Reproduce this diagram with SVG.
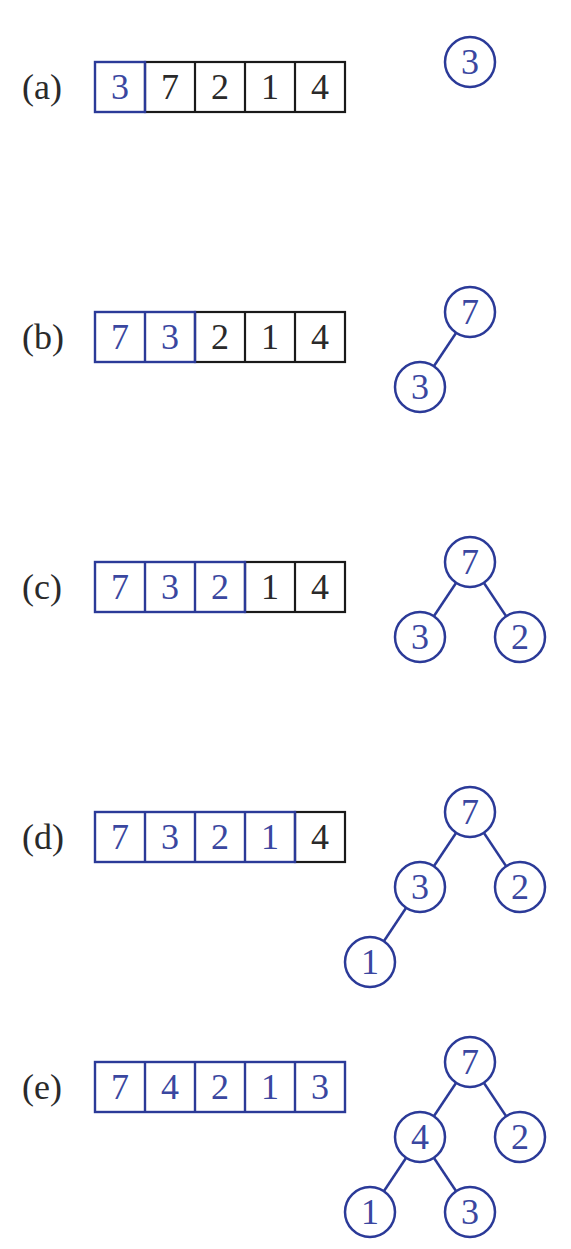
<svg xmlns="http://www.w3.org/2000/svg" width="571" height="1249" viewBox="0 0 571 1249">
<style>
.bk{fill:none;stroke:#1a1a1a;stroke-width:2.2}
.bl{fill:none;stroke:#2b3a98;stroke-width:2.4}
.nd{fill:#fff;stroke:#2b3a98;stroke-width:2.5}
.e{stroke:#2b3a98;stroke-width:2.5}
text{font-family:"Liberation Serif","DejaVu Serif",serif;font-size:36px;text-anchor:middle}
.tb{fill:#3a47a0}
.tk{fill:#2a2a2a}
.lab{fill:#2a2a2a;text-anchor:start}
</style>
<rect width="571" height="1249" fill="#fff"/>
<g id="labels">
<text class="lab" x="22" y="99">(a)</text>
<text class="lab" x="22" y="349">(b)</text>
<text class="lab" x="22" y="599">(c)</text>
<text class="lab" x="22" y="849">(d)</text>
<text class="lab" x="22" y="1099">(e)</text>
</g>
<g id="array-a">
<rect class="bk" x="145" y="62" width="200" height="50"/>
<line class="bk" x1="195" y1="62" x2="195" y2="112"/><line class="bk" x1="245" y1="62" x2="245" y2="112"/><line class="bk" x1="295" y1="62" x2="295" y2="112"/>
<rect class="bl" x="95" y="62" width="50" height="50"/>
<text class="tb" x="120" y="99">3</text><text class="tk" x="170" y="99">7</text><text class="tk" x="220" y="99">2</text><text class="tk" x="270" y="99">1</text><text class="tk" x="320" y="99">4</text>
</g>
<g id="array-b">
<rect class="bk" x="195" y="312" width="150" height="50"/>
<line class="bk" x1="245" y1="312" x2="245" y2="362"/><line class="bk" x1="295" y1="312" x2="295" y2="362"/>
<rect class="bl" x="95" y="312" width="100" height="50"/><line class="bl" x1="145" y1="312" x2="145" y2="362"/>
<text class="tb" x="120" y="349">7</text><text class="tb" x="170" y="349">3</text><text class="tk" x="220" y="349">2</text><text class="tk" x="270" y="349">1</text><text class="tk" x="320" y="349">4</text>
</g>
<g id="array-c">
<rect class="bk" x="245" y="562" width="100" height="50"/>
<line class="bk" x1="295" y1="562" x2="295" y2="612"/>
<rect class="bl" x="95" y="562" width="150" height="50"/><line class="bl" x1="145" y1="562" x2="145" y2="612"/><line class="bl" x1="195" y1="562" x2="195" y2="612"/>
<text class="tb" x="120" y="599">7</text><text class="tb" x="170" y="599">3</text><text class="tb" x="220" y="599">2</text><text class="tk" x="270" y="599">1</text><text class="tk" x="320" y="599">4</text>
</g>
<g id="array-d">
<rect class="bk" x="295" y="812" width="50" height="50"/>
<rect class="bl" x="95" y="812" width="200" height="50"/><line class="bl" x1="145" y1="812" x2="145" y2="862"/><line class="bl" x1="195" y1="812" x2="195" y2="862"/><line class="bl" x1="245" y1="812" x2="245" y2="862"/>
<text class="tb" x="120" y="849">7</text><text class="tb" x="170" y="849">3</text><text class="tb" x="220" y="849">2</text><text class="tb" x="270" y="849">1</text><text class="tk" x="320" y="849">4</text>
</g>
<g id="array-e">
<rect class="bl" x="95" y="1062" width="250" height="50"/><line class="bl" x1="145" y1="1062" x2="145" y2="1112"/><line class="bl" x1="195" y1="1062" x2="195" y2="1112"/><line class="bl" x1="245" y1="1062" x2="245" y2="1112"/><line class="bl" x1="295" y1="1062" x2="295" y2="1112"/>
<text class="tb" x="120" y="1099">7</text><text class="tb" x="170" y="1099">4</text><text class="tb" x="220" y="1099">2</text><text class="tb" x="270" y="1099">1</text><text class="tb" x="320" y="1099">3</text>
</g>
<g id="connectors">
<line class="e" x1="470" y1="312" x2="420" y2="387"/>
<line class="e" x1="470" y1="562" x2="420" y2="637"/><line class="e" x1="470" y1="562" x2="520" y2="637"/>
<line class="e" x1="470" y1="812" x2="420" y2="887"/><line class="e" x1="470" y1="812" x2="520" y2="887"/><line class="e" x1="420" y1="887" x2="370" y2="962"/>
<line class="e" x1="470" y1="1062" x2="420" y2="1137"/><line class="e" x1="470" y1="1062" x2="520" y2="1137"/><line class="e" x1="420" y1="1137" x2="370" y2="1212"/><line class="e" x1="420" y1="1137" x2="470" y2="1212"/>
</g>
<g id="node-a3"><circle class="nd" cx="470" cy="62" r="25"/><text class="tb" x="470" y="74">3</text></g>
<g id="node-b7"><circle class="nd" cx="470" cy="312" r="25"/><text class="tb" x="470" y="324">7</text></g>
<g id="node-b3"><circle class="nd" cx="420" cy="387" r="25"/><text class="tb" x="420" y="399">3</text></g>
<g id="node-c7"><circle class="nd" cx="470" cy="562" r="25"/><text class="tb" x="470" y="574">7</text></g>
<g id="node-c3"><circle class="nd" cx="420" cy="637" r="25"/><text class="tb" x="420" y="649">3</text></g>
<g id="node-c2"><circle class="nd" cx="520" cy="637" r="25"/><text class="tb" x="520" y="649">2</text></g>
<g id="node-d7"><circle class="nd" cx="470" cy="812" r="25"/><text class="tb" x="470" y="824">7</text></g>
<g id="node-d3"><circle class="nd" cx="420" cy="887" r="25"/><text class="tb" x="420" y="899">3</text></g>
<g id="node-d2"><circle class="nd" cx="520" cy="887" r="25"/><text class="tb" x="520" y="899">2</text></g>
<g id="node-d1"><circle class="nd" cx="370" cy="962" r="25"/><text class="tb" x="370" y="974">1</text></g>
<g id="node-e7"><circle class="nd" cx="470" cy="1062" r="25"/><text class="tb" x="470" y="1074">7</text></g>
<g id="node-e4"><circle class="nd" cx="420" cy="1137" r="25"/><text class="tb" x="420" y="1149">4</text></g>
<g id="node-e2"><circle class="nd" cx="520" cy="1137" r="25"/><text class="tb" x="520" y="1149">2</text></g>
<g id="node-e1"><circle class="nd" cx="370" cy="1212" r="25"/><text class="tb" x="370" y="1224">1</text></g>
<g id="node-e3"><circle class="nd" cx="470" cy="1212" r="25"/><text class="tb" x="470" y="1224">3</text></g>
</svg>
